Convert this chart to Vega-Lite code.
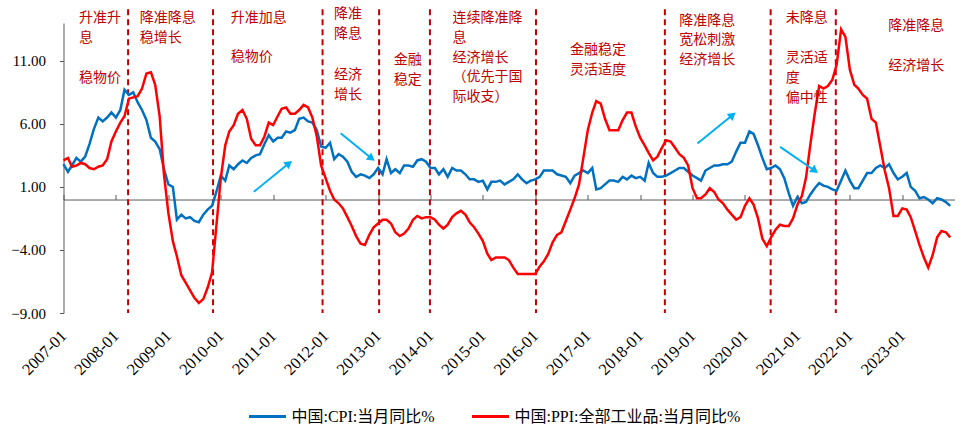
{
  "$schema": "https://vega.github.io/schema/vega-lite/v6.json",
  "description": "中国 CPI 与 PPI 当月同比及货币政策阶段",
  "width": 891,
  "height": 290,
  "autosize": {"type": "none"},
  "padding": {"left": 63.5, "top": 23, "right": 9.5, "bottom": 113},
  "config": {
    "view": {"stroke": null},
    "axis": {"grid": false}
  },
  "datasets": {
    "series": [
      {"m": "2007-01", "cpi": 2.8, "ppi": 3.1},
      {"m": "2007-02", "cpi": 2.2, "ppi": 3.3},
      {"m": "2007-03", "cpi": 2.7, "ppi": 2.6},
      {"m": "2007-04", "cpi": 3.3, "ppi": 2.7},
      {"m": "2007-05", "cpi": 3.0, "ppi": 2.9},
      {"m": "2007-06", "cpi": 3.4, "ppi": 2.8},
      {"m": "2007-07", "cpi": 4.4, "ppi": 2.5},
      {"m": "2007-08", "cpi": 5.6, "ppi": 2.4},
      {"m": "2007-09", "cpi": 6.5, "ppi": 2.6},
      {"m": "2007-10", "cpi": 6.2, "ppi": 2.7},
      {"m": "2007-11", "cpi": 6.5, "ppi": 3.2},
      {"m": "2007-12", "cpi": 6.9, "ppi": 4.6},
      {"m": "2008-01", "cpi": 6.5, "ppi": 5.4},
      {"m": "2008-02", "cpi": 7.1, "ppi": 6.1},
      {"m": "2008-03", "cpi": 8.7, "ppi": 6.6},
      {"m": "2008-04", "cpi": 8.3, "ppi": 8.0},
      {"m": "2008-05", "cpi": 8.5, "ppi": 8.1},
      {"m": "2008-06", "cpi": 7.7, "ppi": 8.2},
      {"m": "2008-07", "cpi": 7.1, "ppi": 8.8},
      {"m": "2008-08", "cpi": 6.3, "ppi": 10.0},
      {"m": "2008-09", "cpi": 4.9, "ppi": 10.1},
      {"m": "2008-10", "cpi": 4.6, "ppi": 9.1},
      {"m": "2008-11", "cpi": 4.0, "ppi": 6.6},
      {"m": "2008-12", "cpi": 2.4, "ppi": 2.0},
      {"m": "2009-01", "cpi": 1.2, "ppi": -1.1},
      {"m": "2009-02", "cpi": 1.0, "ppi": -3.3},
      {"m": "2009-03", "cpi": -1.6, "ppi": -4.5},
      {"m": "2009-04", "cpi": -1.2, "ppi": -6.0},
      {"m": "2009-05", "cpi": -1.5, "ppi": -6.6},
      {"m": "2009-06", "cpi": -1.4, "ppi": -7.2},
      {"m": "2009-07", "cpi": -1.7, "ppi": -7.8},
      {"m": "2009-08", "cpi": -1.8, "ppi": -8.2},
      {"m": "2009-09", "cpi": -1.2, "ppi": -7.9},
      {"m": "2009-10", "cpi": -0.8, "ppi": -7.0},
      {"m": "2009-11", "cpi": -0.5, "ppi": -5.8},
      {"m": "2009-12", "cpi": 0.6, "ppi": -2.1},
      {"m": "2010-01", "cpi": 1.9, "ppi": 1.7},
      {"m": "2010-02", "cpi": 1.5, "ppi": 4.3},
      {"m": "2010-03", "cpi": 2.7, "ppi": 5.4},
      {"m": "2010-04", "cpi": 2.4, "ppi": 5.9},
      {"m": "2010-05", "cpi": 2.8, "ppi": 6.8},
      {"m": "2010-06", "cpi": 3.1, "ppi": 7.1},
      {"m": "2010-07", "cpi": 2.9, "ppi": 6.4},
      {"m": "2010-08", "cpi": 3.3, "ppi": 4.8},
      {"m": "2010-09", "cpi": 3.5, "ppi": 4.3},
      {"m": "2010-10", "cpi": 3.6, "ppi": 4.3},
      {"m": "2010-11", "cpi": 4.4, "ppi": 5.0},
      {"m": "2010-12", "cpi": 5.1, "ppi": 6.1},
      {"m": "2011-01", "cpi": 4.6, "ppi": 5.9},
      {"m": "2011-02", "cpi": 4.9, "ppi": 6.6},
      {"m": "2011-03", "cpi": 4.9, "ppi": 7.2},
      {"m": "2011-04", "cpi": 5.4, "ppi": 7.3},
      {"m": "2011-05", "cpi": 5.3, "ppi": 6.8},
      {"m": "2011-06", "cpi": 5.5, "ppi": 6.8},
      {"m": "2011-07", "cpi": 6.4, "ppi": 7.1},
      {"m": "2011-08", "cpi": 6.5, "ppi": 7.5},
      {"m": "2011-09", "cpi": 6.2, "ppi": 7.3},
      {"m": "2011-10", "cpi": 6.1, "ppi": 6.5},
      {"m": "2011-11", "cpi": 5.5, "ppi": 5.0},
      {"m": "2011-12", "cpi": 4.2, "ppi": 2.7},
      {"m": "2012-01", "cpi": 4.1, "ppi": 1.7},
      {"m": "2012-02", "cpi": 4.5, "ppi": 0.7},
      {"m": "2012-03", "cpi": 3.2, "ppi": 0.0},
      {"m": "2012-04", "cpi": 3.6, "ppi": -0.3},
      {"m": "2012-05", "cpi": 3.4, "ppi": -0.7},
      {"m": "2012-06", "cpi": 3.0, "ppi": -1.4},
      {"m": "2012-07", "cpi": 2.2, "ppi": -2.1},
      {"m": "2012-08", "cpi": 1.8, "ppi": -2.9},
      {"m": "2012-09", "cpi": 2.0, "ppi": -3.5},
      {"m": "2012-10", "cpi": 1.9, "ppi": -3.6},
      {"m": "2012-11", "cpi": 1.7, "ppi": -2.8},
      {"m": "2012-12", "cpi": 2.0, "ppi": -2.2},
      {"m": "2013-01", "cpi": 2.5, "ppi": -1.9},
      {"m": "2013-02", "cpi": 2.0, "ppi": -1.6},
      {"m": "2013-03", "cpi": 3.2, "ppi": -1.6},
      {"m": "2013-04", "cpi": 2.1, "ppi": -1.9},
      {"m": "2013-05", "cpi": 2.4, "ppi": -2.6},
      {"m": "2013-06", "cpi": 2.1, "ppi": -2.9},
      {"m": "2013-07", "cpi": 2.7, "ppi": -2.7},
      {"m": "2013-08", "cpi": 2.7, "ppi": -2.3},
      {"m": "2013-09", "cpi": 2.6, "ppi": -1.6},
      {"m": "2013-10", "cpi": 3.1, "ppi": -1.3},
      {"m": "2013-11", "cpi": 3.2, "ppi": -1.5},
      {"m": "2013-12", "cpi": 3.0, "ppi": -1.4},
      {"m": "2014-01", "cpi": 2.5, "ppi": -1.4},
      {"m": "2014-02", "cpi": 2.5, "ppi": -1.6},
      {"m": "2014-03", "cpi": 2.0, "ppi": -2.0},
      {"m": "2014-04", "cpi": 2.4, "ppi": -2.3},
      {"m": "2014-05", "cpi": 1.8, "ppi": -2.0},
      {"m": "2014-06", "cpi": 2.5, "ppi": -1.4},
      {"m": "2014-07", "cpi": 2.3, "ppi": -1.1},
      {"m": "2014-08", "cpi": 2.3, "ppi": -0.9},
      {"m": "2014-09", "cpi": 2.0, "ppi": -1.2},
      {"m": "2014-10", "cpi": 1.6, "ppi": -1.8},
      {"m": "2014-11", "cpi": 1.6, "ppi": -2.2},
      {"m": "2014-12", "cpi": 1.4, "ppi": -2.7},
      {"m": "2015-01", "cpi": 1.5, "ppi": -3.3},
      {"m": "2015-02", "cpi": 0.8, "ppi": -4.3},
      {"m": "2015-03", "cpi": 1.4, "ppi": -4.8},
      {"m": "2015-04", "cpi": 1.4, "ppi": -4.6},
      {"m": "2015-05", "cpi": 1.5, "ppi": -4.6},
      {"m": "2015-06", "cpi": 1.2, "ppi": -4.6},
      {"m": "2015-07", "cpi": 1.4, "ppi": -4.8},
      {"m": "2015-08", "cpi": 1.6, "ppi": -5.4},
      {"m": "2015-09", "cpi": 2.0, "ppi": -5.9},
      {"m": "2015-10", "cpi": 1.6, "ppi": -5.9},
      {"m": "2015-11", "cpi": 1.3, "ppi": -5.9},
      {"m": "2015-12", "cpi": 1.5, "ppi": -5.9},
      {"m": "2016-01", "cpi": 1.6, "ppi": -5.9},
      {"m": "2016-02", "cpi": 1.8, "ppi": -5.3},
      {"m": "2016-03", "cpi": 2.3, "ppi": -4.9},
      {"m": "2016-04", "cpi": 2.3, "ppi": -4.3},
      {"m": "2016-05", "cpi": 2.3, "ppi": -3.4},
      {"m": "2016-06", "cpi": 2.0, "ppi": -2.8},
      {"m": "2016-07", "cpi": 1.9, "ppi": -2.6},
      {"m": "2016-08", "cpi": 1.8, "ppi": -1.7},
      {"m": "2016-09", "cpi": 1.3, "ppi": -0.8},
      {"m": "2016-10", "cpi": 1.9, "ppi": 0.1},
      {"m": "2016-11", "cpi": 2.1, "ppi": 1.2},
      {"m": "2016-12", "cpi": 2.3, "ppi": 3.3},
      {"m": "2017-01", "cpi": 2.1, "ppi": 5.5},
      {"m": "2017-02", "cpi": 2.5, "ppi": 6.9},
      {"m": "2017-03", "cpi": 0.8, "ppi": 7.8},
      {"m": "2017-04", "cpi": 0.9, "ppi": 7.6},
      {"m": "2017-05", "cpi": 1.2, "ppi": 6.4},
      {"m": "2017-06", "cpi": 1.5, "ppi": 5.5},
      {"m": "2017-07", "cpi": 1.5, "ppi": 5.5},
      {"m": "2017-08", "cpi": 1.4, "ppi": 5.5},
      {"m": "2017-09", "cpi": 1.8, "ppi": 6.3},
      {"m": "2017-10", "cpi": 1.6, "ppi": 6.9},
      {"m": "2017-11", "cpi": 1.9, "ppi": 6.9},
      {"m": "2017-12", "cpi": 1.7, "ppi": 5.8},
      {"m": "2018-01", "cpi": 1.8, "ppi": 4.9},
      {"m": "2018-02", "cpi": 1.5, "ppi": 4.3},
      {"m": "2018-03", "cpi": 2.9, "ppi": 3.7},
      {"m": "2018-04", "cpi": 2.1, "ppi": 3.1},
      {"m": "2018-05", "cpi": 1.8, "ppi": 3.4},
      {"m": "2018-06", "cpi": 1.8, "ppi": 4.1},
      {"m": "2018-07", "cpi": 1.9, "ppi": 4.7},
      {"m": "2018-08", "cpi": 2.1, "ppi": 4.6},
      {"m": "2018-09", "cpi": 2.3, "ppi": 4.1},
      {"m": "2018-10", "cpi": 2.5, "ppi": 3.6},
      {"m": "2018-11", "cpi": 2.5, "ppi": 3.3},
      {"m": "2018-12", "cpi": 2.2, "ppi": 2.7},
      {"m": "2019-01", "cpi": 1.9, "ppi": 0.9},
      {"m": "2019-02", "cpi": 1.7, "ppi": 0.1},
      {"m": "2019-03", "cpi": 1.5, "ppi": 0.1},
      {"m": "2019-04", "cpi": 2.3, "ppi": 0.4},
      {"m": "2019-05", "cpi": 2.5, "ppi": 0.9},
      {"m": "2019-06", "cpi": 2.7, "ppi": 0.6},
      {"m": "2019-07", "cpi": 2.7, "ppi": 0.0},
      {"m": "2019-08", "cpi": 2.8, "ppi": -0.3},
      {"m": "2019-09", "cpi": 2.8, "ppi": -0.8},
      {"m": "2019-10", "cpi": 3.0, "ppi": -1.2},
      {"m": "2019-11", "cpi": 3.8, "ppi": -1.6},
      {"m": "2019-12", "cpi": 4.5, "ppi": -1.4},
      {"m": "2020-01", "cpi": 4.5, "ppi": -0.5},
      {"m": "2020-02", "cpi": 5.4, "ppi": 0.1},
      {"m": "2020-03", "cpi": 5.2, "ppi": -0.4},
      {"m": "2020-04", "cpi": 4.3, "ppi": -1.5},
      {"m": "2020-05", "cpi": 3.3, "ppi": -3.1},
      {"m": "2020-06", "cpi": 2.4, "ppi": -3.7},
      {"m": "2020-07", "cpi": 2.5, "ppi": -3.0},
      {"m": "2020-08", "cpi": 2.7, "ppi": -2.4},
      {"m": "2020-09", "cpi": 2.4, "ppi": -2.0},
      {"m": "2020-10", "cpi": 1.7, "ppi": -2.1},
      {"m": "2020-11", "cpi": 0.5, "ppi": -2.1},
      {"m": "2020-12", "cpi": -0.5, "ppi": -1.5},
      {"m": "2021-01", "cpi": 0.2, "ppi": -0.4},
      {"m": "2021-02", "cpi": -0.3, "ppi": 0.3},
      {"m": "2021-03", "cpi": -0.2, "ppi": 1.7},
      {"m": "2021-04", "cpi": 0.4, "ppi": 4.4},
      {"m": "2021-05", "cpi": 0.9, "ppi": 6.8},
      {"m": "2021-06", "cpi": 1.3, "ppi": 9.0},
      {"m": "2021-07", "cpi": 1.1, "ppi": 8.8},
      {"m": "2021-08", "cpi": 1.0, "ppi": 9.0},
      {"m": "2021-09", "cpi": 0.8, "ppi": 9.5},
      {"m": "2021-10", "cpi": 0.7, "ppi": 10.7},
      {"m": "2021-11", "cpi": 1.5, "ppi": 13.5},
      {"m": "2021-12", "cpi": 2.3, "ppi": 12.9},
      {"m": "2022-01", "cpi": 1.5, "ppi": 10.3},
      {"m": "2022-02", "cpi": 0.9, "ppi": 9.1},
      {"m": "2022-03", "cpi": 0.9, "ppi": 8.8},
      {"m": "2022-04", "cpi": 1.5, "ppi": 8.3},
      {"m": "2022-05", "cpi": 2.1, "ppi": 8.0},
      {"m": "2022-06", "cpi": 2.1, "ppi": 6.4},
      {"m": "2022-07", "cpi": 2.5, "ppi": 6.1},
      {"m": "2022-08", "cpi": 2.7, "ppi": 4.2},
      {"m": "2022-09", "cpi": 2.5, "ppi": 2.3},
      {"m": "2022-10", "cpi": 2.8, "ppi": 0.9},
      {"m": "2022-11", "cpi": 2.1, "ppi": -1.3},
      {"m": "2022-12", "cpi": 1.6, "ppi": -1.3},
      {"m": "2023-01", "cpi": 1.8, "ppi": -0.7},
      {"m": "2023-02", "cpi": 2.1, "ppi": -0.8},
      {"m": "2023-03", "cpi": 1.0, "ppi": -1.4},
      {"m": "2023-04", "cpi": 0.7, "ppi": -2.5},
      {"m": "2023-05", "cpi": 0.1, "ppi": -3.6},
      {"m": "2023-06", "cpi": 0.2, "ppi": -4.6},
      {"m": "2023-07", "cpi": 0.0, "ppi": -5.4},
      {"m": "2023-08", "cpi": -0.3, "ppi": -4.4},
      {"m": "2023-09", "cpi": 0.1, "ppi": -3.0},
      {"m": "2023-10", "cpi": 0.0, "ppi": -2.5},
      {"m": "2023-11", "cpi": -0.2, "ppi": -2.6},
      {"m": "2023-12", "cpi": -0.5, "ppi": -3.0}
    ],
    "periods": [
      {"date": "2008-03-26"},
      {"date": "2009-11-08"},
      {"date": "2011-12-11"},
      {"date": "2013-01-08"},
      {"date": "2013-12-28"},
      {"date": "2016-01-06"},
      {"date": "2018-06-22"},
      {"date": "2020-06-28"},
      {"date": "2021-09-25"}
    ],
    "notes": [
      {"date": "2007-04-19", "value": 14.93, "note": "升准升\n息"},
      {"date": "2007-04-19", "value": 10.17, "note": "稳物价"},
      {"date": "2008-06-16", "value": 14.93, "note": "降准降息\n稳增长"},
      {"date": "2010-03-11", "value": 14.93, "note": "升准加息"},
      {"date": "2010-03-11", "value": 11.83, "note": "稳物价"},
      {"date": "2012-02-28", "value": 15.27, "note": "降准\n降息"},
      {"date": "2012-02-28", "value": 10.43, "note": "经济\n增长"},
      {"date": "2013-04-20", "value": 11.62, "note": "金融\n稳定"},
      {"date": "2014-06-04", "value": 14.93, "note": "连续降准降\n息\n经济增长\n（优先于国\n际收支）"},
      {"date": "2016-08-30", "value": 12.41, "note": "金融稳定\n灵活适度"},
      {"date": "2018-10-01", "value": 14.74, "note": "降准降息\n宽松刺激\n经济增长"},
      {"date": "2020-10-11", "value": 14.93, "note": "未降息"},
      {"date": "2020-10-11", "value": 11.75, "note": "灵活适\n度\n偏中性"},
      {"date": "2022-09-26", "value": 14.32, "note": "降准降息"},
      {"date": "2022-09-26", "value": 11.14, "note": "经济增长"}
    ],
    "arrows": [
      {"x1": "2010-08-19", "y1": 0.61, "x2": "2011-04-21", "y2": 2.87, "dir": "up"},
      {"x1": "2012-04-15", "y1": 5.25, "x2": "2012-11-17", "y2": 3.26, "dir": "down"},
      {"x1": "2019-02-04", "y1": 4.45, "x2": "2019-10-07", "y2": 6.7, "dir": "up"},
      {"x1": "2020-09-02", "y1": 4.18, "x2": "2021-05-02", "y2": 2.28, "dir": "down"}
    ]
  },
  "resolve": {"axis": {"x": "independent", "y": "independent"}},
  "layer": [
    {
      "data": {"name": "periods"},
      "mark": {"type": "rule", "color": "#C00000", "strokeWidth": 2, "strokeDash": [6, 4]},
      "encoding": {
        "x": {
          "field": "date",
          "type": "temporal",
          "scale": {"type": "utc", "nice": false},
          "axis": {
            "orient": "top",
            "offset": -176.52,
            "format": "%Y-%m",
            "tickCount": {"interval": "year", "step": 1},
            "labels": false,
            "ticks": true,
            "tickSize": 5,
            "tickColor": "#595959",
            "domain": true,
            "domainColor": "#595959",
            "domainWidth": 1,
            "title": null
          }
        },
        "y": {"datum": 15.1, "type": "quantitative", "scale": {"domain": [-9, 14], "nice": false}, "axis": null},
        "y2": {"datum": -9}
      }
    },
    {
      "data": {"name": "series"},
      "transform": [{"fold": ["cpi", "ppi"], "as": ["key", "value"]}],
      "mark": {"type": "line", "strokeWidth": 2.5},
      "encoding": {
        "x": {
          "field": "m",
          "type": "temporal",
          "scale": {
            "type": "utc",
            "nice": false,
            "domain": [
              {"year": 2007, "month": 1, "date": 1, "utc": true},
              {"year": 2023, "month": 12, "date": 31, "utc": true}
            ]
          },
          "axis": {
            "orient": "bottom",
            "format": "%Y-%m",
            "tickCount": {"interval": "year", "step": 1},
            "labelAngle": -45,
            "labelAlign": "right",
            "labelBaseline": "middle",
            "labelFont": "Liberation Serif",
            "labelFontSize": 16.5,
            "labelColor": "#000000",
            "labelPadding": 20,
            "labelOverlap": false,
            "labelFlush": false,
            "ticks": false,
            "domain": false,
            "title": null
          }
        },
        "y": {
          "field": "value",
          "type": "quantitative",
          "scale": {"domain": [-9, 14], "nice": false},
          "axis": {
            "orient": "left",
            "values": [-9, -4, 1, 6, 11],
            "format": ".2f",
            "labelFont": "Liberation Serif",
            "labelFontSize": 15,
            "labelColor": "#000000",
            "labelPadding": 14,
            "ticks": true,
            "tickSize": 4,
            "tickColor": "#595959",
            "domain": true,
            "domainColor": "#595959",
            "title": null
          }
        },
        "color": {
          "field": "key",
          "type": "nominal",
          "scale": {"domain": ["cpi", "ppi"], "range": ["#0070C0", "#FF0000"]},
          "legend": {
            "orient": "none",
            "legendX": 184,
            "legendY": 373.5,
            "direction": "horizontal",
            "title": null,
            "padding": 0,
            "symbolType": "stroke",
            "symbolSize": 1369,
            "symbolStrokeWidth": 3,
            "labelOffset": 4,
            "labelLimit": 400,
            "columnPadding": 30,
            "labelFont": "Liberation Serif, Noto Sans CJK SC",
            "labelFontSize": 16,
            "labelColor": "#000000",
            "labelExpr": "datum.label === 'cpi' ? '中国:CPI:当月同比%' : '中国:PPI:全部工业品:当月同比%'"
          }
        }
      }
    },
    {
      "data": {"name": "notes"},
      "mark": {
        "type": "text",
        "align": "left",
        "baseline": "top",
        "lineBreak": "\n",
        "lineHeight": 19.7,
        "font": "Noto Sans CJK SC",
        "fontSize": 14,
        "color": "#C00000"
      },
      "encoding": {
        "x": {"field": "date", "type": "temporal", "scale": {"type": "utc", "nice": false}, "axis": null},
        "y": {"field": "value", "type": "quantitative", "scale": {"domain": [-9, 14], "nice": false}, "axis": null},
        "text": {"field": "note"}
      }
    },
    {
      "data": {"name": "arrows"},
      "mark": {"type": "rule", "color": "#00B0F0", "strokeWidth": 2},
      "encoding": {
        "x": {"field": "x1", "type": "temporal", "scale": {"type": "utc", "nice": false}, "axis": null},
        "y": {"field": "y1", "type": "quantitative", "scale": {"domain": [-9, 14], "nice": false}, "axis": null},
        "x2": {"field": "x2"},
        "y2": {"field": "y2"}
      }
    },
    {
      "data": {"name": "arrows"},
      "transform": [{"filter": "datum.dir === 'up'"}],
      "mark": {"type": "point", "shape": "triangle-up", "angle": 51, "size": 80, "filled": true, "opacity": 1, "color": "#00B0F0"},
      "encoding": {
        "x": {"field": "x2", "type": "temporal", "scale": {"type": "utc", "nice": false}, "axis": null},
        "y": {"field": "y2", "type": "quantitative", "scale": {"domain": [-9, 14], "nice": false}, "axis": null}
      }
    },
    {
      "data": {"name": "arrows"},
      "transform": [{"filter": "datum.dir === 'down'"}],
      "mark": {"type": "point", "shape": "triangle-up", "angle": 127, "size": 80, "filled": true, "opacity": 1, "color": "#00B0F0"},
      "encoding": {
        "x": {"field": "x2", "type": "temporal", "scale": {"type": "utc", "nice": false}, "axis": null},
        "y": {"field": "y2", "type": "quantitative", "scale": {"domain": [-9, 14], "nice": false}, "axis": null}
      }
    }
  ]
}
